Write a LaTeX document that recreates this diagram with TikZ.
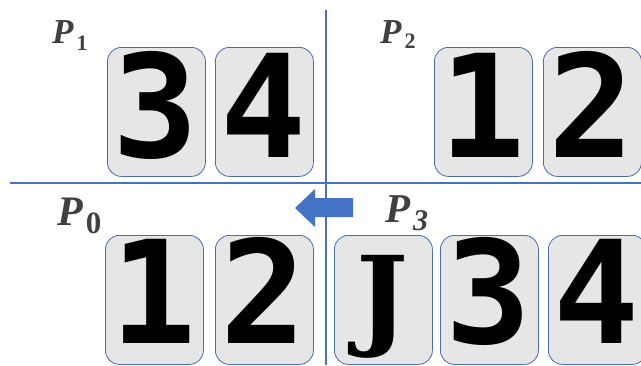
\documentclass[tikz,border=0pt]{standalone}
\usepackage{fontspec}
\newfontfamily\digitfont{DejaVu Sans Mono}
\newfontfamily\jfont{DejaVu Serif}
\newfontfamily\labfont{Liberation Serif}
\definecolor{lineblue}{HTML}{4472C4}
\definecolor{cardfill}{HTML}{E7E6E6}
\definecolor{cardedge}{HTML}{4A6DB0}
\definecolor{labelgray}{HTML}{404040}
\newcommand\dg[1]{#1}
\tikzset{
  card/.style={draw=cardedge, line width=0.8pt, fill=cardfill, rounded corners=14pt,
    minimum width=98pt, minimum height=129pt, inner sep=0pt, anchor=north west},
  digit/.style={anchor=base, inner sep=0pt, font=\digitfont\bfseries\fontsize{143}{143}\selectfont},
  jletter/.style={anchor=base, inner sep=0pt, font=\jfont\bfseries\fontsize{110}{110}\selectfont},
  plabel/.style={anchor=base west, inner sep=0pt, text=labelgray, font=\labfont\bfseries},
  divider/.style={draw=lineblue, line width=2pt},
}
\begin{document}
\begin{tikzpicture}[x=1pt,y=-1pt]
\useasboundingbox (0,0) rectangle (641,365);
\clip (0,0) rectangle (641,365);
% labels
\node[plabel] (p1) at (52,43) {\fontsize{35}{35}\selectfont\itshape P\kern3pt\raisebox{-7pt}{\fontsize{22}{22}\selectfont\upshape 1}};
\node[plabel] (p2) at (380,43) {\fontsize{35}{35}\selectfont\itshape P\kern3pt\raisebox{-5pt}{\fontsize{22}{22}\selectfont\upshape 2}};
\node[plabel] (p0) at (57,225) {\fontsize{42}{42}\selectfont\itshape P\kern3pt\raisebox{-8pt}{\fontsize{31}{31}\selectfont\upshape 0}};
\node[plabel] (p3) at (385,222) {\fontsize{41}{41}\selectfont\itshape P\kern3pt\raisebox{-8pt}{\fontsize{30}{30}\selectfont 3}};
% top cards
\node[card] (c3) at (107,47) {};
\node[card] (c4) at (215,47) {};
\node[card] (c1t) at (434,47) {};
\node[card] (c2t) at (543,47) {};
\node[digit] (d3) at (156,157) {\dg{3}};
\node[digit] (d4) at (264,157) {\dg{4}};
\node[digit] (d1t) at (483,157) {\dg{1}};
\node[digit] (d2t) at (592,157) {\dg{2}};
% bottom cards
\node[card] (c1b) at (105,235) {};
\node[card] (c2b) at (215,235) {};
\node[card] (cJ) at (334,235) {};
\node[card] (c3b) at (440,235) {};
\node[card] (c4b) at (548,235) {};
\node[digit] (d1b) at (154,343) {\dg{1}};
\node[digit] (d2b) at (264,343) {\dg{2}};
\node[jletter] (dJ) at (383,335) {J};
\node[digit] (d3b) at (489,343) {\dg{3}};
\node[digit] (d4b) at (597,343) {\dg{4}};
% arrow
\fill[lineblue] (353,198) -- (315,198) -- (315,189) -- (295,208) -- (315,227) -- (315,217) -- (353,217) -- cycle;
% dividers
\draw[divider] (326,10) -- (326,365);
\draw[divider] (10,183) -- (641,183);
\end{tikzpicture}
\end{document}
